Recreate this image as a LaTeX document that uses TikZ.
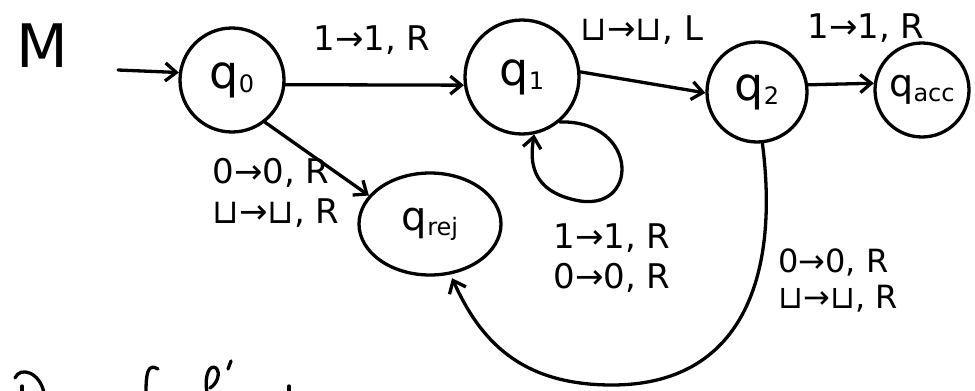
\documentclass[tikz,border=0pt]{standalone}
\usepackage{fontspec}
\setmainfont{DejaVu Sans}
\usetikzlibrary{arrows.meta,shapes.geometric}

\newcommand{\stname}[1]{q{\fontsize{24}{24}\selectfont\raisebox{-0.35ex}{#1}}}

\begin{document}
\begin{tikzpicture}[x=1pt,y=-1pt,
  ink/.style={draw=black,line width=3.3pt,line cap=round,line join=round},
  state/.style={ink,circle,inner sep=0pt,font=\fontsize{46}{46}\selectfont},
  edge/.style={ink,-{Straight Barb[length=11pt,width=18pt,line width=3.3pt]}},
  lbl/.style={font=\fontsize{34}{40}\selectfont,align=left,inner sep=0pt},
]
\useasboundingbox (0,0) rectangle (975,391);
\clip (0,0) rectangle (975,391);

% machine name
\node[inner sep=0pt,font=\fontsize{60}{60}\selectfont] (mname) at (42,46) {M};

% states
\node[state,minimum size=104pt] (q0) at (232,80) {\stname{0}};
\node[state,minimum size=114pt] (q1) at (522,77) {\stname{1}};
\node[state,minimum size=100pt] (q2) at (757,92) {\stname{2}};
\node[state,minimum size=94pt,font=\fontsize{38}{38}\selectfont] (qacc) at (922,90) {\stname{acc}};
\node[ink,ellipse,minimum width=142pt,minimum height=102pt,inner sep=0pt,
      font=\fontsize{40}{40}\selectfont] (qrej) at (430,224) {\stname{rej}};

% start arrow
\coordinate (start) at (118,70);
\draw[edge] (start) -- (q0.172);

% transitions
\draw[edge] (q0.-5) -- (q1.188);
\draw[edge] (q1.5) -- (q2.181);
\draw[edge] (q2.8) -- (qacc.172);
\draw[edge] (q0.-52) -- (qrej.155);
\draw[edge] (q1.-50) .. controls (640,120) and (640,215) .. (575,200)
                     .. controls (530,190) and (530,160) .. (q1.-78);
\draw[edge,shorten >=4pt] (q2.-84) .. controls (780,280) and (740,385) .. (612,385)
                     .. controls (520,385) and (480,340) .. (qrej.-68);

% transition labels
\node[lbl] (l01) at (372,40) {1→1, R};
\node[lbl] (l12) at (642,30) {⊔→⊔, L};
\node[lbl] (l2a) at (866,28) {1→1, R};
\node[lbl] (l0r) at (276,193) {0→0, R\\⊔→⊔, R};
\node[lbl] (l11) at (612,258) {1→1, R\\0→0, R};
\node[lbl,font=\fontsize{32}{36}\selectfont] (l2r) at (838,280) {0→0, R\\⊔→⊔, R};

% partly visible writing along the lower edge
\draw[ink] (15,378) .. controls (20,366) and (40,372) .. (44,393);
\draw[ink] (22,386) -- (22,393);
\draw[ink] (158,369) .. controls (147,362) and (146,376) .. (146,393);
\draw[ink] (207,393) .. controls (204,374) and (210,364) .. (216,368)
              .. controls (221,373) and (217,384) .. (210,388);
\draw[ink] (231,361) -- (228,369);
\draw[ink] (289,386) -- (289,393);
\end{tikzpicture}
\end{document}
